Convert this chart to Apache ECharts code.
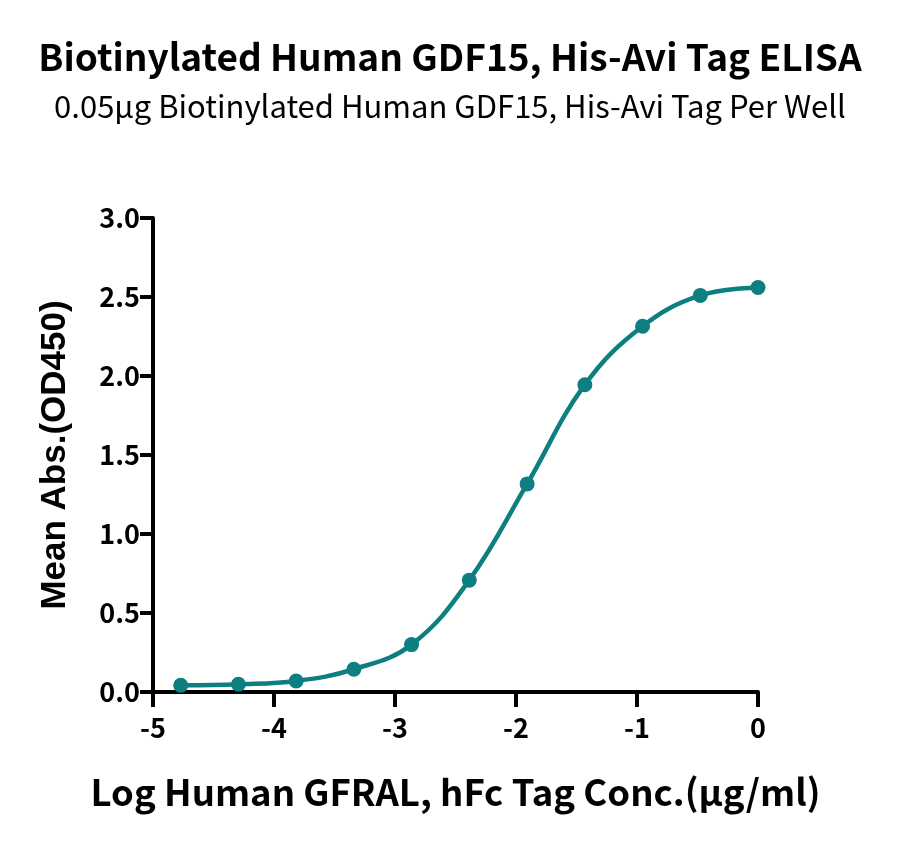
<!DOCTYPE html>
<html>
<head>
<meta charset="utf-8">
<script src="https://cdn.jsdelivr.net/npm/echarts@6/dist/echarts.min.js"></script>
<style>
html,body{margin:0;padding:0;background:#fff;}
#chart{width:900px;height:850px;}
</style>
</head>
<body>
<div id="chart"></div>
<script>
const titleText = 'Biotinylated Human GDF15, His-Avi Tag ELISA';
const subtitleText = '0.05μg Biotinylated Human GDF15, His-Avi Tag Per Well';
const xAxisTitle = 'Log Human GFRAL, hFc Tag Conc.(μg/ml)';
const yAxisTitle = 'Mean Abs.(OD450)';
const logConc = [-4.771, -4.294, -3.817, -3.340, -2.863, -2.386, -1.908, -1.431, -0.954, -0.477, 0];
const meanAbs = [0.042, 0.049, 0.07, 0.144, 0.30, 0.708, 1.317, 1.945, 2.315, 2.51, 2.56];
const xTicks = [-5, -4, -3, -2, -1, 0];
const yTicks = [0, 0.5, 1.0, 1.5, 2.0, 2.5, 3.0];

const color = '#0E7F80';
const chart = echarts.init(document.getElementById('chart'));
const pts = logConc.map((x, i) => [x, meanAbs[i]]);
chart.setOption({
  backgroundColor: '#fff',
  animation: false,
  title: [{
    text: titleText,
    left: 'center', top: 33,
    textStyle: {fontFamily: 'Noto Sans CJK SC', fontWeight: 'bold', fontSize: 37, color: '#000'}
  }, {
    text: subtitleText,
    left: 'center', top: 86,
    textStyle: {fontFamily: 'Noto Sans CJK SC', fontWeight: 'normal', fontSize: 31, color: '#000'}
  }],
  grid: {left: 153, right: 142, top: 218, bottom: 158, containLabel: false},
  xAxis: {
    type: 'value', min: xTicks[0], max: xTicks[xTicks.length - 1], interval: 1,
    name: xAxisTitle, nameLocation: 'middle', nameGap: 82,
    nameTextStyle: {fontFamily: 'Noto Sans CJK SC', fontWeight: 'bold', fontSize: 36.5, color: '#000'},
    axisLine: {show: true, onZero: false, lineStyle: {color: '#000', width: 4}},
    axisTick: {show: true, length: 15, lineStyle: {color: '#000', width: 4}},
    axisLabel: {fontFamily: 'Noto Sans CJK SC', fontWeight: 'bold', fontSize: 27, color: '#000', margin: 22},
    splitLine: {show: false}
  },
  yAxis: {
    type: 'value', min: yTicks[0], max: yTicks[yTicks.length - 1], interval: 0.5,
    name: yAxisTitle, nameLocation: 'middle', nameGap: 80,
    nameTextStyle: {fontFamily: 'Liberation Sans', fontWeight: 'bold', fontSize: 35, color: '#000'},
    axisLine: {show: true, onZero: false, lineStyle: {color: '#000', width: 4}},
    axisTick: {show: true, length: 13, lineStyle: {color: '#000', width: 4}},
    axisLabel: {fontFamily: 'Noto Sans CJK SC', fontWeight: 'bold', fontSize: 27, color: '#000', margin: 13,
      formatter: v => v.toFixed(1)},
    splitLine: {show: false}
  },
  series: [{
    type: 'line',
    data: pts,
    smooth: 0.4,
    symbol: 'circle',
    symbolSize: 15,
    lineStyle: {color: color, width: 4.5},
    itemStyle: {color: color},
    clip: false
  }]
});
</script>
</body>
</html>
